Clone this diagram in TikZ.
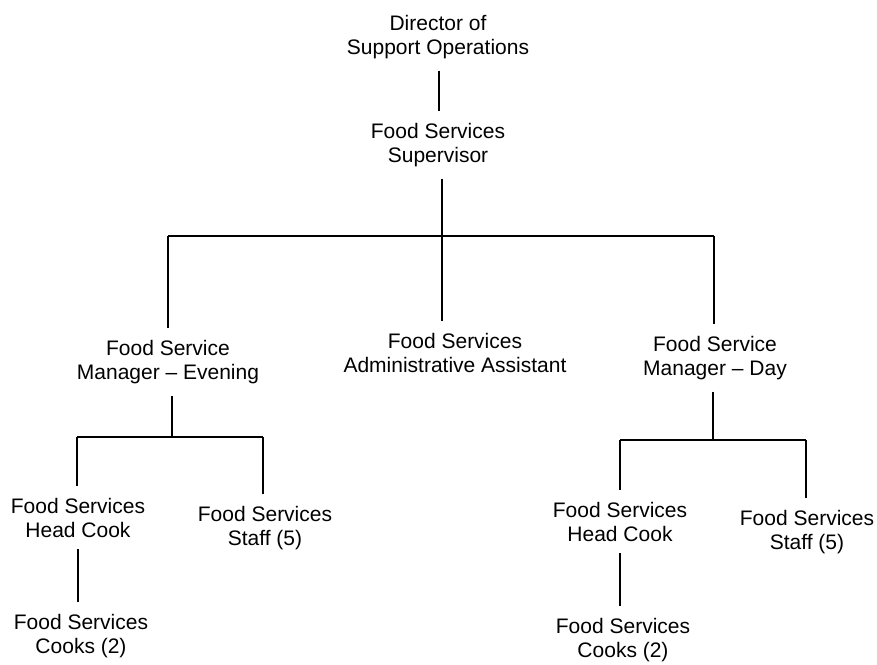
\documentclass[tikz,border=0pt]{standalone}
\usepackage{fontspec}
\setmainfont{Liberation Sans}
\begin{document}
\begin{tikzpicture}[x=1pt,y=-1pt,
  lbl/.style={align=center,font=\fontsize{21}{24}\selectfont,inner xsep=0pt,inner ysep=12pt,anchor=base},
  conn/.style={draw=black,line width=1.1pt}]
\path[use as bounding box,fill=white] (0,0) rectangle (877,664);
% nodes (positioned at the baseline of their last line)
\node[lbl] (dir)    at (438,54)  {Director of\\Support Operations};
\node[lbl] (sup)    at (438,162) {Food Services\\Supervisor};
\node[lbl] (admin)  at (455,372) {Food Services\\Administrative Assistant};
\node[lbl] (mgrE)   at (168,379) {Food Service\\Manager -- Evening};
\node[lbl] (mgrD)   at (715,375) {Food Service\\Manager -- Day};
\node[lbl] (hcE)    at (78,537)  {Food Services\\Head Cook};
\node[lbl] (staffE) at (265,545) {Food Services\\Staff (5)};
\node[lbl] (cooksE) at (81,653)  {Food Services\\Cooks (2)};
\node[lbl] (hcD)    at (620,541) {Food Services\\Head Cook};
\node[lbl] (staffD) at (807,549) {Food Services\\Staff (5)};
\node[lbl] (cooksD) at (623,657) {Food Services\\Cooks (2)};
% junction coordinates
\coordinate (cTop) at (439,0);
\coordinate (jT) at (442,236);
\coordinate (jL) at (168,236);
\coordinate (jR) at (714,236);
\coordinate (eT) at (172,437);
\coordinate (eL) at (77,437);
\coordinate (eR) at (263,437);
\coordinate (eC) at (78,0);
\coordinate (dT) at (713,440);
\coordinate (dL) at (620,440);
\coordinate (dR) at (806,440);
\coordinate (dC) at (620,0);
% connectors
\draw[conn] (dir.south -| cTop) -- (sup.north -| cTop);
\draw[conn] (sup.south -| jT) -- (admin.north -| jT);
\draw[conn] (jL) -- (jR);
\draw[conn] (jL) -- (mgrE.north -| jL);
\draw[conn] (jR) -- (mgrD.north -| jR);
\draw[conn] (mgrE.south -| eT) -- (eT);
\draw[conn] (eL) -- (eR);
\draw[conn] (eL) -- (hcE.north -| eL);
\draw[conn] (eR) -- (staffE.north -| eR);
\draw[conn] (hcE.south -| eC) -- (cooksE.north -| eC);
\draw[conn] (mgrD.south -| dT) -- (dT);
\draw[conn] (dL) -- (dR);
\draw[conn] (dL) -- (hcD.north -| dL);
\draw[conn] (dR) -- (staffD.north -| dR);
\draw[conn] (hcD.south -| dC) -- (cooksD.north -| dC);
\end{tikzpicture}
\end{document}
